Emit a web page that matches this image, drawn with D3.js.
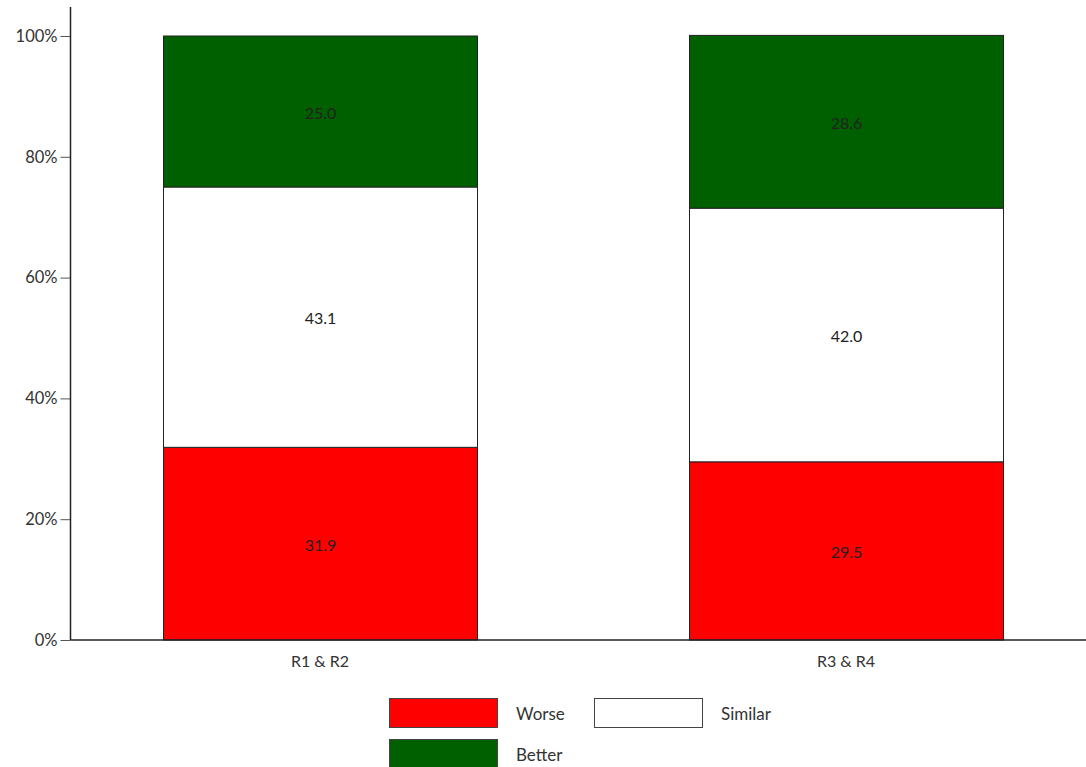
<!DOCTYPE html>
<html><head><meta charset="utf-8">
<script src="https://cdn.jsdelivr.net/npm/d3@7"></script>
<style>body{margin:0;background:#fff;} text{font-family:"Lato","Open Sans",sans-serif;}</style>
</head><body>
<svg id="c" width="1086" height="767"></svg>
<script>
const categories = ["R1 & R2", "R3 & R4"];
const seriesNames = ["Worse", "Similar", "Better"];
const worse = [31.9, 29.5];
const similar = [43.1, 42.0];
const better = [25.0, 28.6];
const yTicks = [0, 20, 40, 60, 80, 100];
const colors = ["#ff0000", "#ffffff", "#006000"];

(function(){
const svg = d3.select("#c");
const pl = 70.5, pr = 1086, pt = 36, pb = 640;
const x = d3.scaleBand().domain(categories).range([57.8, 1108.2]).paddingInner(212/526).paddingOuter(0.2);
const y = d3.scaleLinear().domain([0, 100]).range([pb, pt]);

const rows = categories.map((c, i) => ({cat: c, Worse: worse[i], Similar: similar[i], Better: better[i]}));
const stack = d3.stack().keys(seriesNames)(rows);

const g = svg.append("g");
stack.forEach((layer, li) => {
  layer.forEach((d, i) => {
    const x0 = Math.round(x(rows[i].cat)) + 0.5;
    g.append("rect")
      .attr("x", x0).attr("width", Math.round(x.bandwidth()))
      .attr("y", y(d[1])).attr("height", y(d[0]) - y(d[1]))
      .attr("fill", colors[li]).attr("stroke", "#222").attr("stroke-width", 1);
    g.append("text")
      .attr("x", x0 + x.bandwidth() / 2).attr("y", (y(d[0]) + y(d[1])) / 2 + 7)
      .attr("text-anchor", "middle").attr("font-size", 16).attr("fill", "#222")
      .text(d3.format(".1f")(d.data[seriesNames[li]]));
  });
});

// y axis
const ya = svg.append("g").attr("transform", `translate(${pl},0)`)
  .call(d3.axisLeft(y).tickValues(yTicks).tickSize(10).tickFormat(d => d + "%"));
ya.select(".domain").remove();
ya.selectAll(".tick line").attr("stroke", "#555");
ya.selectAll(".tick text").attr("font-size", 16.5).attr("fill", "#333").attr("x", -13).attr("font-family", "Lato");
svg.append("line").attr("x1", pl).attr("x2", pl).attr("y1", 7).attr("y2", pb).attr("stroke", "#222").attr("stroke-width", 1.5);

// x axis
const xa = svg.append("g").attr("transform", `translate(0,${pb})`)
  .call(d3.axisBottom(x).tickSize(0));
xa.select(".domain").remove();
xa.selectAll(".tick text").attr("font-size", 16).attr("fill", "#333").attr("dy", "1.5em").attr("font-family", "Lato");
svg.append("line").attr("x1", pl).attr("x2", pr).attr("y1", pb).attr("y2", pb).attr("stroke", "#222").attr("stroke-width", 1.5);

// legend
const legPos = [[389, 698], [594, 698], [389, 739]];
seriesNames.forEach((s, i) => {
  const [lx, ly] = legPos[i];
  svg.append("rect").attr("x", lx + 0.5).attr("y", ly + 0.5).attr("width", 108).attr("height", 29)
    .attr("fill", colors[i]).attr("stroke", "#444");
  svg.append("text").attr("x", lx + 127).attr("y", ly + 22).attr("font-size", 17).attr("fill", "#333").text(s);
});
})();
</script>
</body></html>
